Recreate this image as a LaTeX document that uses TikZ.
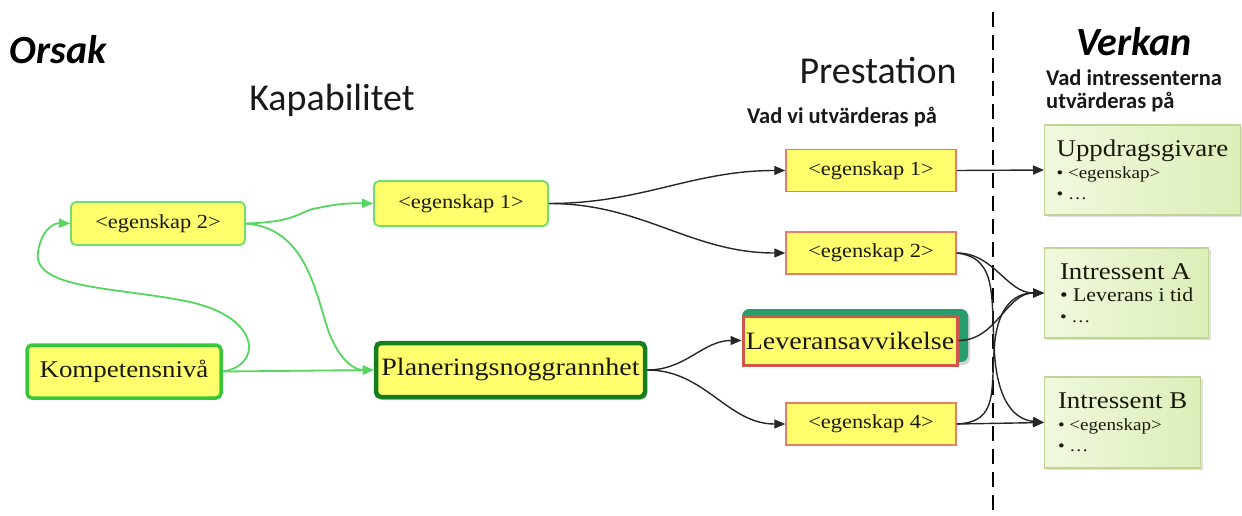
\documentclass[tikz,border=0pt]{standalone}
\usepackage{fontspec}
\setmainfont{Liberation Serif}[FakeStretch=1.12]
\newfontfamily\hdr{Carlito}
\usetikzlibrary{arrows.meta,shadows}
\definecolor{yel}{RGB}{255,255,110}
\definecolor{lgreen}{RGB}{110,222,110}
\definecolor{agreen}{RGB}{85,215,95}
\definecolor{kgreen}{RGB}{55,200,55}
\definecolor{dgreen}{RGB}{20,125,30}
\definecolor{salmon}{RGB}{228,125,105}
\definecolor{lred}{RGB}{210,85,75}
\definecolor{teal}{RGB}{40,158,108}
\definecolor{rborder}{RGB}{192,212,150}
\definecolor{rfillA}{RGB}{240,249,222}
\definecolor{rfillB}{RGB}{220,238,185}
\definecolor{txt}{RGB}{25,25,10}
\tikzset{
  gbox/.style={draw=lgreen, line width=1.8pt, fill=yel, rounded corners=5pt, inner sep=0pt, text=txt, font=\fontsize{20}{24}\selectfont},
  kbox/.style={gbox, draw=kgreen, line width=3.5pt, font=\fontsize{24}{28}\selectfont},
  pbox/.style={gbox, draw=dgreen, line width=4.5pt, font=\fontsize{25}{28}\selectfont, drop shadow={shadow xshift=2pt, shadow yshift=-3pt, opacity=0.35}},
  sbox/.style={draw=salmon, line width=1.5pt, fill=yel, inner sep=0pt, text=txt, minimum width=170pt, minimum height=42pt, font=\fontsize{20}{24}\selectfont},
  lbox/.style={sbox, draw=lred, line width=3pt, font=\fontsize{25}{28}\selectfont},
  rbox/.style={draw=rborder, line width=1.2pt, left color=rfillA, right color=rfillB, inner xsep=12pt, inner ysep=0pt, align=left, text=txt, anchor=west, font=\fontsize{17}{21}\selectfont, drop shadow={shadow xshift=2pt, shadow yshift=-2pt, opacity=0.25}},
  garr/.style={draw=agreen, line width=1.8pt, -{Triangle[length=11pt,width=9pt]}},
  barr/.style={draw=black!85, line width=1.4pt, -{Triangle[length=11pt,width=9pt]}},
  hd/.style={font=\hdr\fontsize{38}{42}\selectfont, text=black!90},
  bhd/.style={font=\hdr\bfseries\itshape\fontsize{40}{44}\selectfont, text=black},
  shd/.style={font=\hdr\bfseries\fontsize{22.5}{26}\selectfont, text=black!90, align=left}
}
\newcommand{\rt}[1]{{\fontsize{24}{26}\selectfont #1}}
\begin{document}
\begin{tikzpicture}[x=1pt,y=-1pt]
\useasboundingbox (0,0) rectangle (1242,515);
% headings
\node[bhd, anchor=west] (orsak) at (6,50) {Orsak};
\node[bhd] (verkan) at (1134,42) {Verkan};
\node[hd] (kap) at (332,100) {Kapabilitet};
\node[hd] (prest) at (878,70) {Prestation};
\node[shd] (vadvi) at (842,117) {Vad vi utvärderas på};
\node[shd, anchor=north west, inner sep=0pt] (vadint) at (1046,70) {Vad intressenterna\\[-3pt]utvärderas på};
% dashed divider
\coordinate (dtop) at (993,12);
\coordinate (dbot) at (993,515);
\draw[line width=2.2pt, dash pattern=on 15pt off 8pt] (dtop) -- (dbot);
% capability nodes
\node[gbox, minimum width=174pt, minimum height=43pt] (E2) at (158,223.5) {<egenskap 2>};
\node[gbox, minimum width=174pt, minimum height=45pt] (E1) at (461,203.5) {<egenskap 1>};
\node[kbox, minimum width=194pt, minimum height=53pt] (K) at (124,371.5) {Kompetensnivå};
\node[pbox, minimum width=269pt, minimum height=54pt] (P) at (510.5,370) {Planeringsnoggrannhet};
% performance nodes
\node[sbox] (PE1) at (871,170.5) {<egenskap 1>};
\node[sbox] (PE2) at (871,253) {<egenskap 2>};
\fill[teal, rounded corners=7pt, drop shadow={shadow xshift=2pt, shadow yshift=-3pt, opacity=0.35}] (742,309) rectangle (968,362);
\node[lbox, minimum width=214pt, minimum height=49pt] (L) at (850,340.5) {Leveransavvikelse};
\node[sbox] (PE4) at (871,424) {<egenskap 4>};
% stakeholder nodes
\node[rbox, minimum width=188pt, minimum height=90pt] (U) at (1044,170) {\rt{Uppdragsgivare}\\[1pt]• <egenskap>\\• …};
\node[rbox, minimum width=164pt, minimum height=90pt] (A) at (1044,293) {\rt{Intressent A}\\[1pt]{\fontsize{19.5}{21}\selectfont • Leverans i tid}\\• …};
\node[rbox, minimum width=156pt, minimum height=91pt] (B) at (1044,422.5) {\rt{Intressent B}\\[1pt]• <egenskap>\\• …};
% green connectors
\draw[garr] (K.east) .. controls (262,366) and (262,318) .. (190,302) .. controls (120,287) and (32,290) .. (38,252) .. controls (41,232) and (52,223) .. (E2.west);
\draw[garr] (K.east) -- (P.west);
\draw[garr] (E2.east) .. controls (300,222) and (300,210) .. (318,208) .. controls (335,204) and (350,203) .. (E1.west);
\draw[garr] (E2.east) .. controls (305,228) and (315,290) .. (328,330) .. controls (340,362) and (355,370) .. (P.west);
% black connectors
\draw[barr] (E1.east) to[out=0,in=180] (PE1.west);
\draw[barr] (E1.east) to[out=0,in=180] (PE2.west);
\draw[barr] (P.east) to[out=0,in=180] (L.west);
\draw[barr] (P.east) to[out=0,in=180] (PE4.west);
\draw[barr] (PE1.east) -- (U.west);
\draw[barr] (PE2.east) to[out=0,in=180] (A.west);
\draw[barr] (PE2.east) .. controls (1000,258) and (990,300) .. (995,360) .. controls (1000,410) and (1020,420) .. (B.west);
\draw[barr] (L.east) to[out=0,in=180] (A.west);
\draw[barr] (PE4.east) .. controls (1000,422) and (990,390) .. (995,340) .. controls (1000,300) and (1020,293) .. (A.west);
\draw[barr] (PE4.east) -- (B.west);
\end{tikzpicture}
\end{document}
